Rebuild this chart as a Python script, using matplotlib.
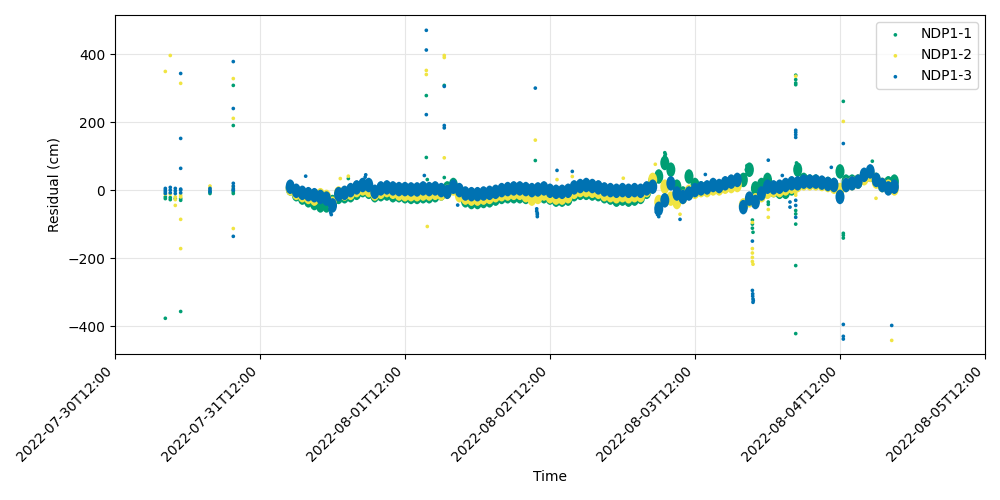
import matplotlib
matplotlib.use("Agg")
import matplotlib.pyplot as plt
import matplotlib.dates as mdates
from matplotlib.markers import MarkerStyle
from matplotlib.transforms import Affine2D
import pandas as pd

# ---------------- data ----------------
START = pd.Timestamp("2022-07-30T12:00")

# continuous record, hourly samples, hours since START
band_hours = list(range(29, 130))

ndp1_1_band = [5, -12, -22, -30, -38, -45, -45, -35, -20, -18,
               -15, -8, 0, -5, -15, -12, -10, -15, -15, -18,
               -20, -20, -18, -18, -15, -10, 5, 15, -5, -30,
               -35, -35, -32, -30, -25, -20, -18, -18, -18, -20,
               -20, -18, -18, -22, -28, -28, -25, -12, -8, -8,
               -10, -12, -18, -22, -28, -25, -28, -25, -20, -5,
               25, 40, 80, 60, 10, -10, 40, 15, 5, 5,
               10, 8, 15, 20, 20, 30, 60, 5, 15, 30,
               0, -5, -5, 5, 60, 30, 25, 25, 20, 18,
               15, 55, 25, 25, 25, 40, 45, 30, 15, 20,
               25]
ndp1_2_band = [5, -8, -15, -20, -25, -15, -20, -40, -10, -10,
               -8, 0, 5, 0, -10, -5, 0, -5, -10, -12,
               -12, -12, -10, -10, -8, -10, -5, 5, -15, -22,
               -25, -25, -22, -20, -15, -12, -10, -8, -8, -15,
               -25, -20, -10, -18, -22, -22, -18, -5, 0, 0,
               -2, -5, -12, -15, -18, -15, -18, -15, -15, 0,
               30, -35, 10, -25, -35, -20, -5, -5, 0, 0,
               5, 5, 10, 12, 15, -45, -30, -30, -15, -5,
               0, 0, 5, 10, 15, 20, 20, 20, 18, 15,
               10, 0, 15, 20, 25, 35, 45, 25, 15, 10,
               5]
ndp1_3_band = [10, -2, -8, -12, -15, -20, -25, -45, -12, -8,
               0, 8, 15, 15, -5, 5, 8, 5, 3, 3,
               2, 2, 5, 3, 5, 0, -5, 10, 0, -10,
               -12, -12, -10, -8, -5, 0, 3, 5, 5, 3,
               0, 2, 5, -2, -5, -5, -2, 8, 12, 15,
               12, 8, 2, 0, -2, 0, -2, 0, -2, 5,
               10, -55, -30, 20, -10, -20, -10, 0, 5, 8,
               15, 12, 20, 25, 30, -50, -25, -35, -10, 10,
               8, 10, 15, 20, 20, 25, 25, 25, 22, 18,
               15, -20, 15, 20, 25, 45, 55, 30, 15, 5,
               10]

# sparse points / spikes: hours since START, residual (cm)
ndp1_1_pts_h = [8.33, 8.33, 8.33, 9.15, 9.15, 9.98, 10.87, 10.87, 10.87, 15.72, 15.72,
                19.58, 19.58, 19.58, 19.58, 19.58,
                38.62, 51.53, 51.53, 51.69, 54.5, 54.5, 69.57,
                90.9, 91.0, 91.0, 91.1, 91.1, 104.3, 104.5, 104.6,
                105.5, 105.5, 105.5, 105.6, 108.13, 108.13,
                112.67, 112.67, 112.67, 112.67, 112.8, 112.8, 112.8,
                112.67, 112.67, 112.67, 112.67, 112.67,
                120.55, 120.55, 120.55, 120.55, 125.35]
ndp1_1_pts_v = [-20, -25, -377, -22, -28, -25, -25, -30, -357, -10, -5,
                -5, -10, 0, 308, 190,
                34, 278, 96, 31, 308, 37, 87,
                90, 100, 110, 95, 105, 45, 60, 72,
                -88, -100, -112, -124, -35, -42,
                338, 325, 315, 310, 80, 70, 60,
                -60, -70, -100, -222, -422,
                261, -127, -133, -141, 85]

ndp1_2_pts_h = [8.33, 8.33, 9.15, 9.15, 9.98, 9.98, 9.98, 10.87, 10.87, 10.87, 10.87, 10.87,
                15.72, 15.72, 19.58, 19.58, 19.58, 19.58,
                37.29, 38.62, 51.53, 51.53, 51.69, 54.5, 54.5, 54.5, 69.57,
                73.16, 75.69, 84.13, 89.43, 89.9, 90.0, 93.52,
                105.5, 105.5, 105.5, 105.5, 105.5, 105.6, 108.13, 108.13,
                112.67, 112.67, 112.67, 120.55, 125.96, 128.56]
ndp1_2_pts_v = [-12, 349, -12, 396, -20, -28, -45, -15, -20, 314, -86, -172,
                5, 12, 10, 328, 211, -113,
                34, 41, 352, 340, -107, 396, 390, 95, 147,
                31, 40, 35, 76, -52, -60, -71,
                -95, -172, -185, -198, -210, -218, -57, -80,
                335, -8, -15, 202, -24, -442]

ndp1_3_pts_h = [8.33, 8.33, 8.33, 8.33, 9.15, 9.15, 9.15, 9.98, 9.98, 9.98,
                10.87, 10.87, 10.87, 10.87, 10.87, 10.87,
                15.72, 15.72, 15.72, 19.58, 19.58, 19.58, 19.58, 19.58, 19.58, 19.58,
                31.56, 35.6, 35.7, 35.8, 41.4, 41.5,
                51.2, 51.53, 51.53, 51.53, 54.5, 54.5, 54.5, 56.72,
                69.57, 69.8, 69.8, 69.9, 69.9, 69.9,
                73.16, 75.69, 89.6, 89.8, 90.0, 93.52, 97.71,
                105.5, 105.5, 105.55, 105.55, 105.6, 105.6, 105.65, 108.13,
                110.45, 111.72, 111.72,
                112.67, 112.67, 112.67, 112.67, 112.67, 112.67, 112.67,
                118.56, 120.55, 120.55, 120.55, 120.55, 128.56]
ndp1_3_pts_v = [-5, 0, 5, -10, -8, 0, 8, -10, -2, 5,
                -8, 0, 3, 343, 152, 64,
                -5, 0, 5, 5, 12, 20, 0, 378, 240, -136,
                41, -58, -66, -72, 38, 45,
                43, 470, 412, 222, 305, 190, 183, -44,
                300, -55, -62, -68, -72, -78,
                58, 55, -65, -72, -78, -86, 46,
                -150, -295, -305, -312, -320, -330, -325, 88,
                43, -35, -50,
                176, 170, 163, 155, -30, -45, -80,
                67, 137, -395, -430, -438, -398]

series = [
    ("NDP1-1", "#009E73", ndp1_1_band, ndp1_1_pts_h, ndp1_1_pts_v),
    ("NDP1-2", "#F0E442", ndp1_2_band, ndp1_2_pts_h, ndp1_2_pts_v),
    ("NDP1-3", "#0072B2", ndp1_3_band, ndp1_3_pts_h, ndp1_3_pts_v),
]

# ---------------- plot ----------------
fig = plt.figure(figsize=(10, 5), dpi=100)
ax = fig.add_axes([0.115, 0.292, 0.87, 0.678])

# tall ellipse marker for the densely sampled record
dense_marker = MarkerStyle("o", transform=Affine2D().scale(0.62, 1.0))

band_t = START + pd.to_timedelta(band_hours, unit="h")
for name, col, band, ph, pv in series:
    ax.scatter(band_t, band, s=110, marker=dense_marker, color=col,
               edgecolors="none", zorder=2)
    pt = START + pd.to_timedelta(ph, unit="h")
    ax.scatter(pt, pv, s=7, color=col, edgecolors="none", label=name, zorder=2)

ax.set_xlim(pd.Timestamp("2022-07-30T12:00"), pd.Timestamp("2022-08-05T12:00"))
ax.set_ylim(-482, 515)
ax.set_yticks([-400, -200, 0, 200, 400])
ticks = pd.date_range("2022-07-30T12:00", "2022-08-05T12:00", freq="D")
ax.set_xticks(ticks)
ax.xaxis.set_major_formatter(mdates.DateFormatter("%Y-%m-%dT%H:%M"))
plt.setp(ax.get_xticklabels(), rotation=45, ha="right")
ax.grid(True, color="#e6e6e6", linewidth=0.8)
ax.set_axisbelow(True)
ax.set_xlabel("Time")
ax.set_ylabel("Residual (cm)")
ax.legend(loc="upper right", scatterpoints=1)

fig.savefig("out.png", dpi=100)
